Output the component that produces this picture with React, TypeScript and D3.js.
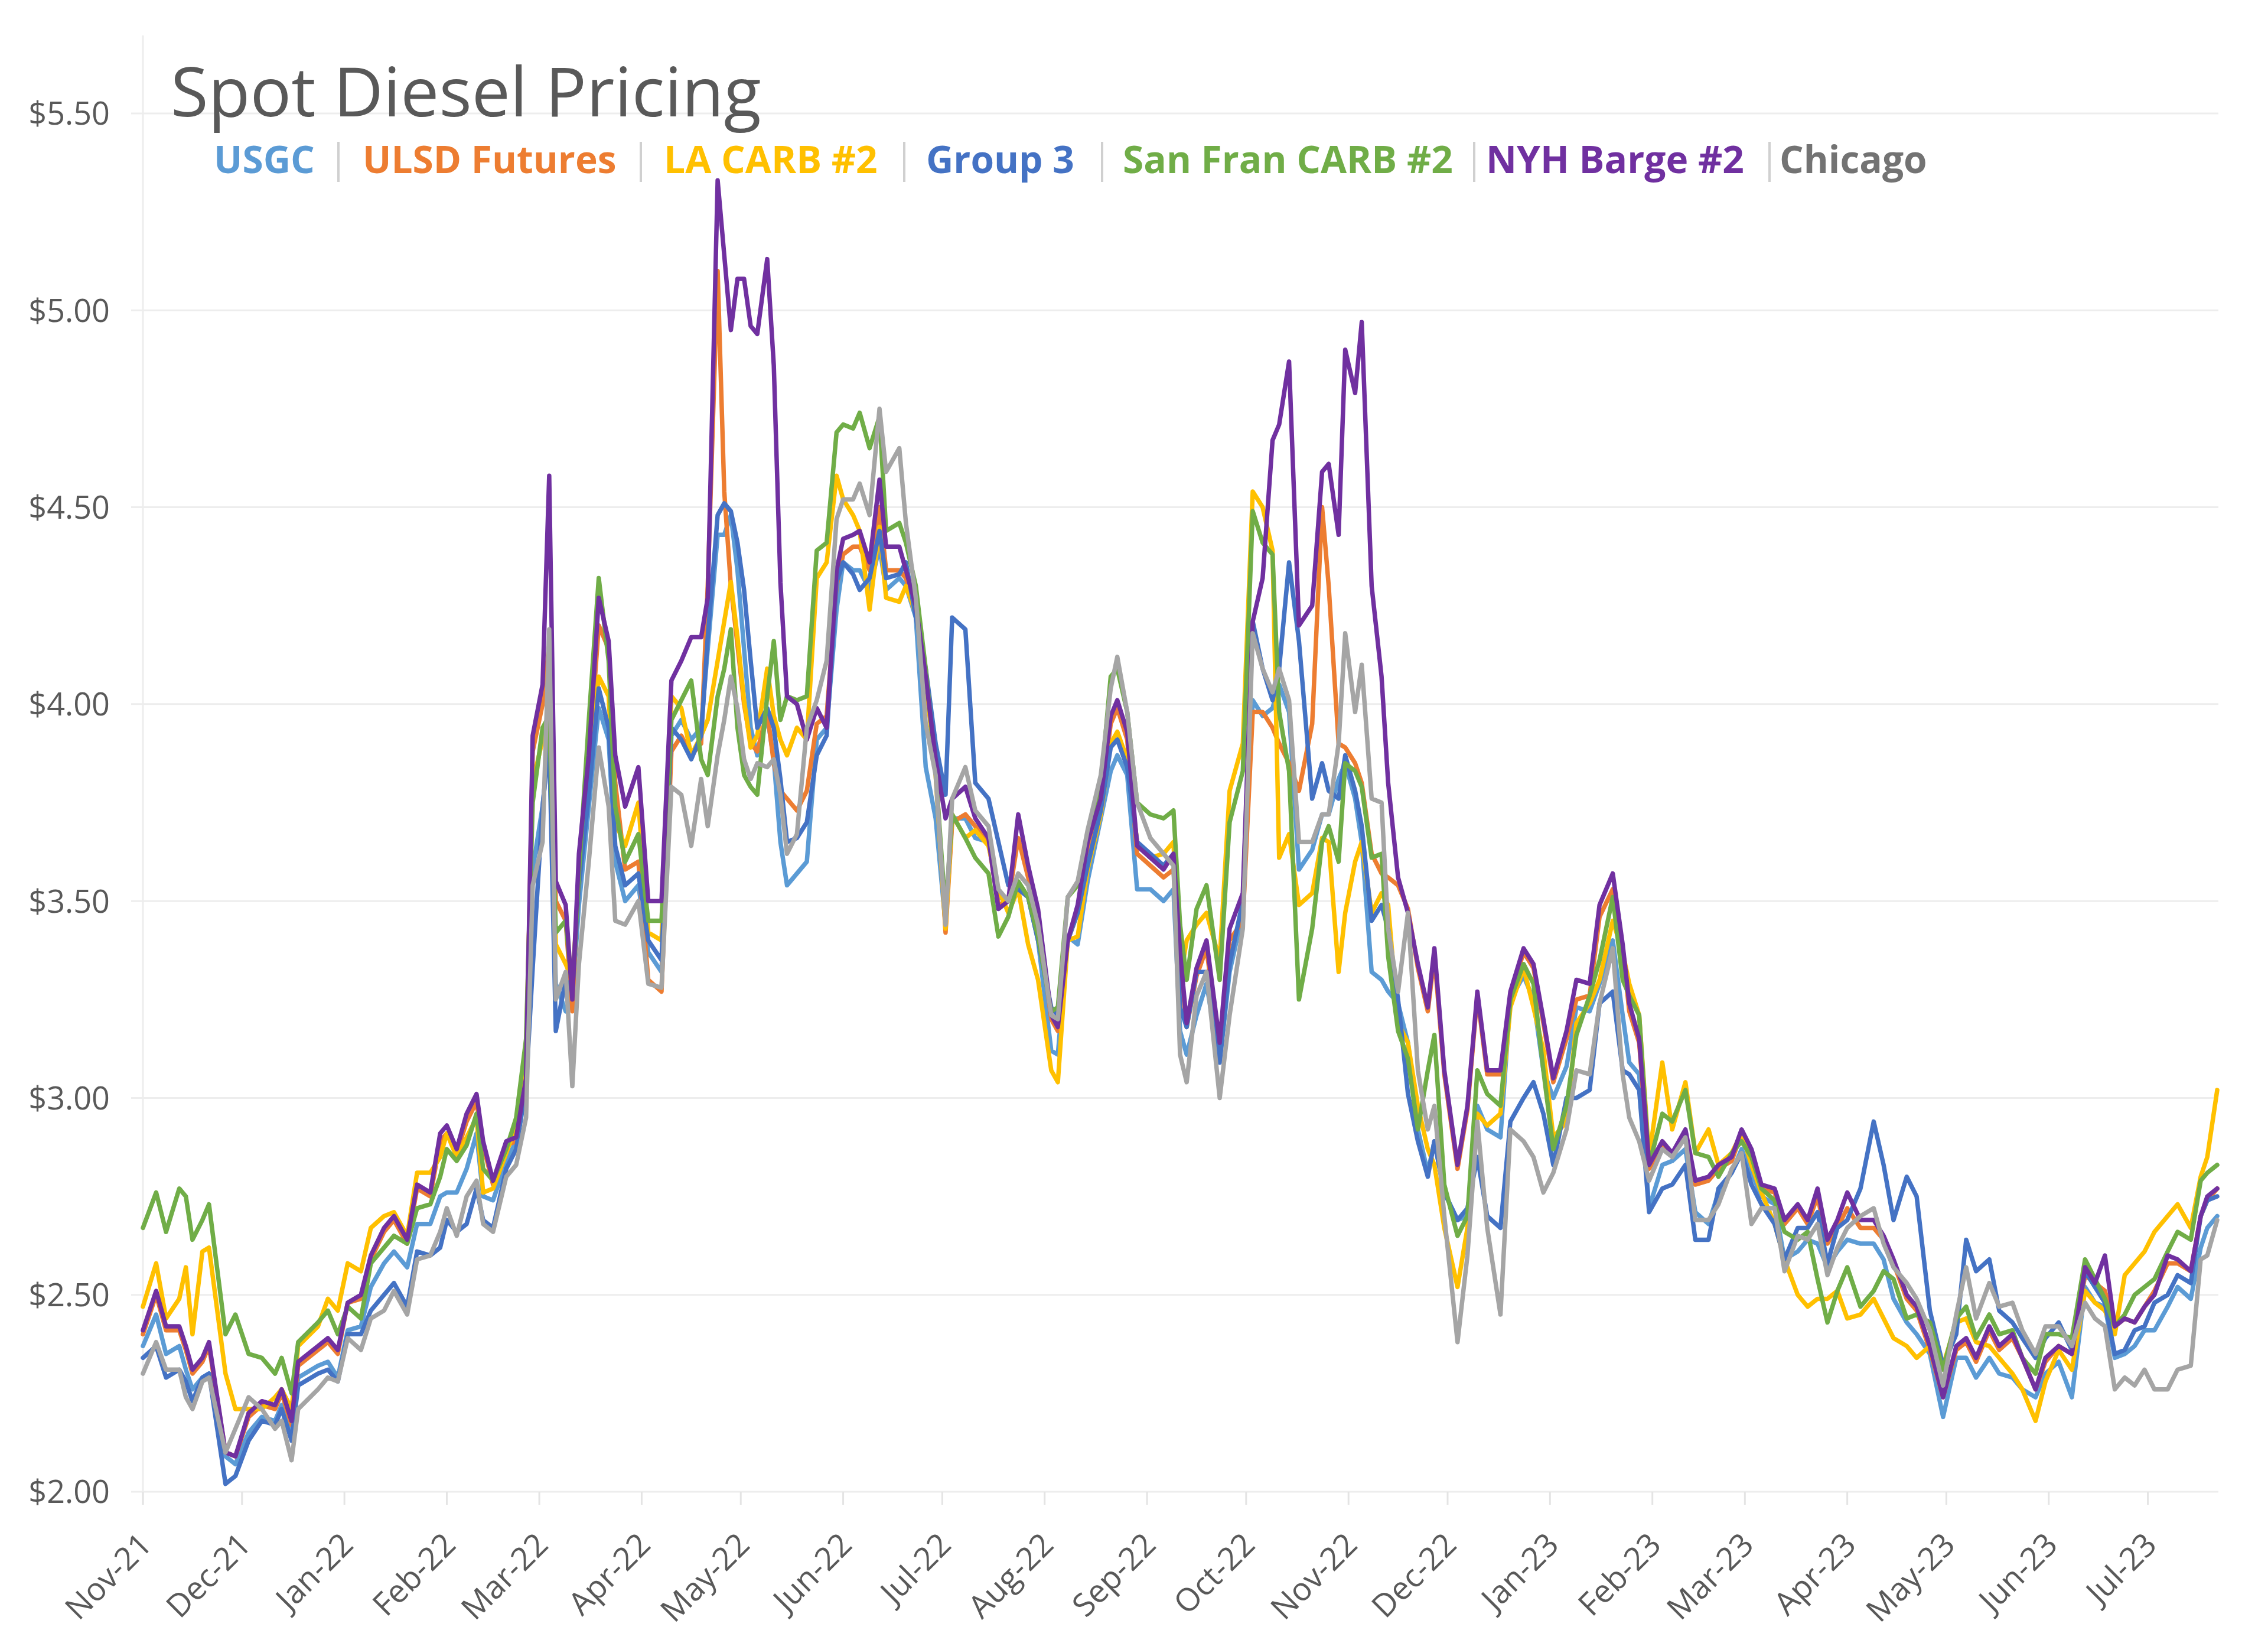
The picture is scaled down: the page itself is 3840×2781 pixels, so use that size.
import React from "react";
import * as d3 from "d3";

// ---------- DATA ----------
const dates: string[] = [
  "2021-11-01","2021-11-05","2021-11-08","2021-11-12","2021-11-14","2021-11-16","2021-11-19","2021-11-21","2021-11-26","2021-11-29",
  "2021-12-03","2021-12-07","2021-12-11","2021-12-13","2021-12-16","2021-12-18","2021-12-24","2021-12-27","2021-12-30","2022-01-02",
  "2022-01-06","2022-01-09","2022-01-13","2022-01-16","2022-01-20","2022-01-23","2022-01-27","2022-01-30","2022-02-01","2022-02-04",
  "2022-02-07","2022-02-10","2022-02-12","2022-02-15",
  "2022-02-19","2022-02-22","2022-02-25","2022-02-27","2022-03-02","2022-03-04","2022-03-06","2022-03-09","2022-03-11","2022-03-13",
  "2022-03-16","2022-03-19","2022-03-22","2022-03-24","2022-03-27","2022-03-31","2022-04-03","2022-04-07","2022-04-10","2022-04-13",
  "2022-04-16","2022-04-19","2022-04-21","2022-04-24","2022-04-26","2022-04-28","2022-04-30","2022-05-02","2022-05-04","2022-05-06",
  "2022-05-09","2022-05-11","2022-05-13","2022-05-15","2022-05-18","2022-05-21","2022-05-24","2022-05-27","2022-05-30","2022-06-01",
  "2022-06-04","2022-06-06","2022-06-09","2022-06-12","2022-06-14","2022-06-18","2022-06-20","2022-06-23","2022-06-26","2022-06-29",
  "2022-07-02","2022-07-04","2022-07-08","2022-07-11","2022-07-15","2022-07-18","2022-07-21","2022-07-24","2022-07-27","2022-07-30",
  "2022-08-03","2022-08-05","2022-08-08","2022-08-11","2022-08-14","2022-08-18","2022-08-21","2022-08-23","2022-08-26","2022-08-29",
  "2022-09-02","2022-09-06","2022-09-09","2022-09-11","2022-09-13","2022-09-16",
  "2022-09-19","2022-09-23","2022-09-26","2022-09-30","2022-10-03","2022-10-06","2022-10-09","2022-10-11","2022-10-14","2022-10-17",
  "2022-10-21","2022-10-24","2022-10-26","2022-10-29","2022-10-31","2022-11-03","2022-11-05","2022-11-08","2022-11-11","2022-11-13",
  "2022-11-16","2022-11-19","2022-11-22","2022-11-25","2022-11-27","2022-11-30","2022-12-04","2022-12-07","2022-12-10","2022-12-13",
  "2022-12-17","2022-12-20","2022-12-24","2022-12-27","2022-12-30","2023-01-02",
  "2023-01-06","2023-01-09","2023-01-13","2023-01-16","2023-01-20","2023-01-23","2023-01-25","2023-01-28","2023-01-31","2023-02-04",
  "2023-02-07","2023-02-11","2023-02-14","2023-02-18","2023-02-21","2023-02-25","2023-02-28","2023-03-03","2023-03-06","2023-03-10",
  "2023-03-13","2023-03-17","2023-03-20","2023-03-23","2023-03-26","2023-03-29","2023-04-01","2023-04-05","2023-04-09","2023-04-12",
  "2023-04-15","2023-04-19",
  "2023-04-22","2023-04-26","2023-04-30","2023-05-04","2023-05-07","2023-05-10","2023-05-14","2023-05-17","2023-05-21","2023-05-24",
  "2023-05-28","2023-05-31","2023-06-04","2023-06-08","2023-06-12","2023-06-15","2023-06-18","2023-06-21","2023-06-24","2023-06-27",
  "2023-06-30","2023-07-03","2023-07-07","2023-07-10","2023-07-14","2023-07-17","2023-07-19","2023-07-22",
];

const usgc: number[] = [
  2.37,2.45,2.35,2.37,2.31,2.26,2.29,2.30,2.09,2.07,2.15,2.19,2.18,2.22,2.16,2.29,2.32,2.33,2.29,2.41,2.42,2.52,2.58,2.61,2.57,2.68,2.68,2.75,2.76,2.76,2.82,2.91,2.75,2.74,
  2.84,2.89,3.05,3.58,3.74,3.91,3.29,3.22,3.25,3.49,3.74,3.99,3.91,3.60,3.50,3.54,3.37,3.32,3.92,3.96,3.91,3.94,4.14,4.43,4.43,4.48,4.34,4.14,3.94,3.87,3.97,3.86,3.65,3.54,3.57,3.60,3.91,3.94,4.24,4.36,
  4.34,4.34,4.29,4.40,4.29,4.32,4.30,4.22,3.84,3.71,3.44,3.71,3.71,3.66,3.65,3.51,3.50,3.54,3.51,3.40,3.12,3.11,3.41,3.39,3.55,3.71,3.83,3.87,3.82,3.53,3.53,3.50,3.53,3.17,3.11,3.21,
  3.29,3.09,3.32,3.47,4.01,3.97,3.99,4.05,3.98,3.58,3.63,3.72,3.72,3.81,3.85,3.76,3.65,3.32,3.30,3.27,3.24,3.14,2.92,2.81,2.89,2.76,2.69,2.70,2.98,2.92,2.90,3.25,3.31,3.25,3.07,3.00,
  3.08,3.23,3.22,3.29,3.40,3.21,3.09,3.06,2.72,2.83,2.84,2.87,2.71,2.68,2.76,2.81,2.87,2.81,2.75,2.73,2.59,2.61,2.64,2.63,2.57,2.61,2.64,2.63,2.63,2.59,2.49,2.43,
  2.40,2.35,2.19,2.34,2.34,2.29,2.34,2.30,2.29,2.26,2.24,2.30,2.33,2.24,2.52,2.48,2.47,2.34,2.35,2.37,2.41,2.41,2.47,2.52,2.49,2.62,2.67,2.70,
];

const ulsdFutures: number[] = [
  2.40,2.50,2.41,2.41,2.36,2.30,2.33,2.37,2.10,2.09,2.19,2.22,2.21,2.25,2.17,2.32,2.36,2.38,2.35,2.48,2.49,2.59,2.66,2.69,2.63,2.77,2.75,2.89,2.91,2.86,2.94,2.99,2.88,2.78,
  2.88,2.89,3.05,3.88,4.00,4.15,3.50,3.45,3.22,3.58,3.85,4.20,4.14,3.80,3.58,3.60,3.30,3.27,3.88,3.92,3.87,3.90,4.30,5.10,4.54,4.30,4.15,4.00,3.90,3.88,3.98,3.85,3.78,3.76,3.73,3.78,3.95,3.97,4.30,4.38,
  4.40,4.40,4.34,4.50,4.34,4.34,4.32,4.24,4.06,3.84,3.42,3.70,3.72,3.69,3.65,3.49,3.50,3.66,3.56,3.46,3.20,3.17,3.40,3.47,3.62,3.75,3.95,3.99,3.91,3.62,3.59,3.56,3.58,3.35,3.18,3.31,
  3.38,3.12,3.40,3.45,3.98,3.98,3.94,3.90,3.85,3.78,3.95,4.50,4.30,3.90,3.89,3.85,3.80,3.62,3.57,3.56,3.54,3.48,3.33,3.22,3.36,3.06,2.82,2.97,3.26,3.06,3.06,3.26,3.37,3.33,3.19,3.04,
  3.15,3.25,3.26,3.46,3.53,3.38,3.22,3.14,2.82,2.88,2.85,2.91,2.78,2.79,2.82,2.84,2.91,2.86,2.77,2.76,2.68,2.72,2.68,2.75,2.63,2.67,2.72,2.67,2.67,2.64,2.58,2.49,
  2.46,2.36,2.24,2.36,2.38,2.33,2.41,2.36,2.39,2.34,2.26,2.33,2.37,2.35,2.55,2.53,2.51,2.42,2.44,2.43,2.47,2.51,2.58,2.58,2.56,2.70,2.74,2.77,
];

const laCarb: number[] = [
  2.47,2.58,2.44,2.49,2.57,2.40,2.61,2.62,2.30,2.21,2.21,2.21,2.24,2.26,2.21,2.37,2.42,2.49,2.46,2.58,2.56,2.67,2.70,2.71,2.65,2.81,2.81,2.85,2.91,2.85,2.90,2.95,2.76,2.77,
  2.86,2.93,3.12,3.80,3.91,3.94,3.39,3.34,3.30,3.54,3.84,4.07,4.02,3.70,3.64,3.75,3.42,3.40,4.02,3.99,3.87,3.92,3.96,4.11,4.21,4.31,4.17,4.01,3.89,3.92,4.09,3.97,3.91,3.87,3.94,3.91,4.32,4.36,4.58,4.52,
  4.48,4.44,4.24,4.45,4.27,4.26,4.30,4.23,4.07,3.82,3.43,3.72,3.66,3.68,3.64,3.53,3.47,3.53,3.39,3.30,3.07,3.04,3.40,3.41,3.58,3.72,3.90,3.93,3.86,3.65,3.61,3.62,3.65,3.30,3.40,3.44,
  3.47,3.35,3.78,3.90,4.54,4.50,4.39,3.61,3.67,3.49,3.52,3.66,3.65,3.32,3.47,3.60,3.65,3.47,3.52,3.49,3.19,3.14,2.98,2.87,2.83,2.67,2.52,2.67,2.96,2.93,2.96,3.23,3.33,3.23,3.12,2.90,
  2.94,3.19,3.24,3.30,3.45,3.37,3.29,3.21,2.85,3.09,2.92,3.04,2.86,2.92,2.83,2.86,2.91,2.83,2.76,2.68,2.59,2.50,2.47,2.49,2.49,2.51,2.44,2.45,2.49,2.44,2.39,2.37,
  2.34,2.37,2.32,2.43,2.44,2.38,2.37,2.34,2.30,2.26,2.18,2.28,2.36,2.31,2.51,2.48,2.46,2.40,2.55,2.58,2.61,2.66,2.70,2.73,2.67,2.80,2.85,3.02,
];

const group3: number[] = [
  2.34,2.37,2.29,2.31,2.28,2.23,2.29,2.30,2.02,2.04,2.13,2.18,2.17,2.21,2.13,2.27,2.30,2.31,2.28,2.40,2.40,2.46,2.50,2.53,2.47,2.61,2.60,2.62,2.69,2.66,2.68,2.77,2.69,2.67,
  2.82,2.87,3.03,3.33,3.74,3.91,3.17,3.30,3.27,3.54,3.77,4.04,3.94,3.64,3.54,3.57,3.40,3.35,3.94,3.91,3.86,3.92,4.17,4.48,4.51,4.49,4.41,4.29,4.11,3.94,3.99,3.94,3.81,3.65,3.66,3.70,3.87,3.92,4.31,4.36,
  4.33,4.29,4.32,4.44,4.32,4.33,4.36,4.22,4.09,3.90,3.77,4.22,4.19,3.80,3.76,3.65,3.54,3.53,3.51,3.40,3.23,3.21,3.40,3.47,3.59,3.73,3.89,3.91,3.84,3.65,3.62,3.59,3.62,3.23,3.18,3.32,
  3.32,3.09,3.34,3.50,4.21,4.09,4.01,4.09,4.36,4.16,3.76,3.85,3.78,3.76,3.87,3.78,3.69,3.45,3.49,3.43,3.25,3.01,2.89,2.80,2.89,2.76,2.69,2.72,2.85,2.70,2.67,2.94,3.00,3.04,2.96,2.83,
  3.00,3.00,3.02,3.24,3.27,3.07,3.06,3.02,2.71,2.77,2.78,2.83,2.64,2.64,2.77,2.81,2.86,2.78,2.73,2.68,2.59,2.67,2.67,2.71,2.58,2.67,2.69,2.77,2.94,2.83,2.69,2.80,
  2.75,2.46,2.32,2.40,2.64,2.56,2.59,2.46,2.43,2.39,2.34,2.39,2.43,2.36,2.56,2.52,2.48,2.35,2.36,2.41,2.42,2.48,2.50,2.55,2.53,2.70,2.74,2.75,
];

const sanFranCarb: number[] = [
  2.67,2.76,2.66,2.77,2.75,2.64,2.69,2.73,2.40,2.45,2.35,2.34,2.30,2.34,2.25,2.38,2.43,2.46,2.40,2.47,2.44,2.58,2.62,2.65,2.63,2.72,2.73,2.80,2.87,2.84,2.88,2.96,2.82,2.79,
  2.87,2.95,3.15,3.75,3.94,3.97,3.42,3.45,3.27,3.57,3.96,4.32,4.11,3.74,3.60,3.67,3.45,3.45,3.96,4.01,4.06,3.86,3.82,4.02,4.09,4.19,3.94,3.82,3.79,3.77,4.02,4.16,3.96,4.02,4.01,4.02,4.39,4.41,4.69,4.71,
  4.70,4.74,4.65,4.73,4.44,4.46,4.41,4.30,4.09,3.83,3.47,3.72,3.66,3.61,3.57,3.41,3.46,3.55,3.51,3.41,3.22,3.23,3.51,3.54,3.66,3.79,4.07,4.09,3.98,3.75,3.72,3.71,3.73,3.44,3.30,3.48,
  3.54,3.30,3.70,3.83,4.49,4.41,4.38,3.98,3.83,3.25,3.43,3.65,3.69,3.60,3.85,3.83,3.79,3.61,3.62,3.36,3.17,3.10,2.92,3.07,3.16,2.78,2.65,2.70,3.07,3.01,2.98,3.25,3.34,3.29,3.07,2.87,
  2.98,3.16,3.26,3.35,3.51,3.30,3.26,3.21,2.83,2.96,2.94,3.02,2.86,2.85,2.80,2.86,2.89,2.85,2.77,2.74,2.66,2.64,2.66,2.54,2.43,2.51,2.57,2.47,2.51,2.56,2.54,2.44,
  2.45,2.43,2.31,2.44,2.47,2.39,2.45,2.40,2.41,2.34,2.30,2.40,2.40,2.39,2.59,2.54,2.49,2.42,2.45,2.50,2.52,2.54,2.61,2.66,2.64,2.79,2.81,2.83,
];

const nyhBarge: number[] = [
  2.41,2.51,2.42,2.42,2.37,2.31,2.34,2.38,2.10,2.09,2.20,2.23,2.22,2.26,2.18,2.33,2.37,2.39,2.36,2.48,2.50,2.60,2.67,2.70,2.64,2.78,2.76,2.91,2.93,2.87,2.96,3.01,2.89,2.79,
  2.89,2.90,3.05,3.92,4.05,4.58,3.55,3.49,3.25,3.62,3.87,4.27,4.16,3.87,3.74,3.84,3.50,3.50,4.06,4.11,4.17,4.17,4.27,5.33,5.14,4.95,5.08,5.08,4.96,4.94,5.13,4.86,4.31,4.02,4.00,3.91,3.99,3.94,4.34,4.42,
  4.43,4.44,4.36,4.57,4.40,4.40,4.34,4.25,4.07,3.86,3.71,3.76,3.79,3.71,3.66,3.48,3.50,3.72,3.59,3.48,3.21,3.18,3.40,3.49,3.65,3.76,3.97,4.01,3.93,3.64,3.61,3.58,3.62,3.37,3.19,3.33,
  3.40,3.14,3.43,3.52,4.21,4.32,4.67,4.71,4.87,4.20,4.25,4.59,4.61,4.43,4.90,4.79,4.97,4.30,4.07,3.80,3.56,3.47,3.34,3.23,3.38,3.07,2.83,2.98,3.27,3.07,3.07,3.27,3.38,3.34,3.20,3.05,
  3.17,3.30,3.29,3.49,3.57,3.39,3.24,3.15,2.83,2.89,2.86,2.92,2.79,2.80,2.83,2.85,2.92,2.87,2.78,2.77,2.69,2.73,2.69,2.77,2.64,2.69,2.76,2.69,2.69,2.65,2.59,2.50,
  2.47,2.37,2.24,2.37,2.39,2.34,2.42,2.37,2.40,2.34,2.26,2.34,2.37,2.35,2.57,2.53,2.60,2.42,2.44,2.43,2.47,2.50,2.60,2.59,2.56,2.70,2.75,2.77,
];

const chicago: number[] = [
  2.30,2.38,2.31,2.31,2.24,2.21,2.28,2.29,2.10,2.16,2.24,2.21,2.16,2.18,2.08,2.21,2.26,2.29,2.28,2.39,2.36,2.44,2.46,2.51,2.45,2.59,2.60,2.66,2.72,2.65,2.75,2.79,2.68,2.66,
  2.80,2.83,2.95,3.54,3.65,4.19,3.25,3.32,3.03,3.34,3.60,3.89,3.74,3.45,3.44,3.50,3.29,3.28,3.79,3.77,3.64,3.81,3.69,3.87,3.96,4.07,3.99,3.86,3.81,3.85,3.84,3.86,3.77,3.62,3.67,3.94,4.01,4.11,4.47,4.52,
  4.52,4.56,4.48,4.75,4.59,4.65,4.46,4.27,3.95,3.82,3.44,3.76,3.84,3.73,3.69,3.53,3.50,3.57,3.54,3.44,3.21,3.20,3.51,3.55,3.68,3.82,4.04,4.12,3.98,3.75,3.66,3.62,3.59,3.11,3.04,3.26,
  3.32,3.00,3.21,3.43,4.18,4.09,4.03,4.09,4.01,3.65,3.65,3.72,3.72,3.90,4.18,3.98,4.10,3.76,3.75,3.43,3.27,3.47,3.07,2.92,2.98,2.70,2.38,2.60,2.94,2.67,2.45,2.92,2.89,2.85,2.76,2.81,
  2.92,3.07,3.06,3.24,3.38,3.06,2.95,2.89,2.79,2.87,2.85,2.90,2.69,2.69,2.73,2.82,2.86,2.68,2.72,2.72,2.56,2.65,2.64,2.68,2.55,2.62,2.67,2.70,2.72,2.63,2.57,2.53,
  2.49,2.41,2.27,2.45,2.57,2.44,2.53,2.47,2.48,2.41,2.35,2.42,2.42,2.37,2.48,2.44,2.42,2.26,2.29,2.27,2.31,2.26,2.26,2.31,2.32,2.59,2.60,2.69,
];

const seriesNames = ["USGC", "ULSD Futures", "LA CARB #2", "Group 3", "San Fran CARB #2", "NYH Barge #2", "Chicago"];
const seriesValues = [usgc, ulsdFutures, laCarb, group3, sanFranCarb, nyhBarge, chicago];

const yTicks = [2, 2.5, 3, 3.5, 4, 4.5, 5, 5.5];
const xTickDates = [
  "2021-11-01","2021-12-01","2022-01-01","2022-02-01","2022-03-01","2022-04-01","2022-05-01","2022-06-01","2022-07-01","2022-08-01","2022-09-01",
  "2022-10-01","2022-11-01","2022-12-01","2023-01-01","2023-02-01","2023-03-01","2023-04-01","2023-05-01","2023-06-01","2023-07-01",
];
const xTickLabels = [
  "Nov-21","Dec-21","Jan-22","Feb-22","Mar-22","Apr-22","May-22","Jun-22","Jul-22","Aug-22","Sep-22",
  "Oct-22","Nov-22","Dec-22","Jan-23","Feb-23","Mar-23","Apr-23","May-23","Jun-23","Jul-23",
];
const titleText = "Spot Diesel Pricing";

// ---------- STYLE / LAYOUT ----------
const lineColors = ["#5B9BD5", "#ED7D31", "#FFC000", "#4472C4", "#70AD47", "#7030A0", "#A5A5A5"];
const legendTextColors = ["#5B9BD5", "#ED7D31", "#FFC000", "#4472C4", "#70AD47", "#7030A0", "#737373"];
const legendX = [362, 614, 1124, 1568, 1901, 2516, 3013];
const legendSepX = [573, 1085, 1531, 1866, 2496, 2996];

const W = 3840;
const H = 2781;
const X0 = 242;
const X1 = 3754;
const FONT = "'Open Sans', 'Noto Sans', 'DejaVu Sans', sans-serif";

const parse = (s: string) => {
  const [y, m, d] = s.split("-").map(Number);
  return new Date(y, m - 1, d);
};

export default function App() {
  const x = d3.scaleTime().domain([parse("2021-11-01"), parse("2023-07-22")]).range([X0, X1]);
  const y = d3.scaleLinear().domain([2, 5.5]).range([2525, 192]);
  const parsedDates = dates.map(parse);
  const line = d3
    .line<number>()
    .x((_, i) => x(parsedDates[i]))
    .y((v) => y(v))
    .curve(d3.curveLinear);
  const fmt = d3.format("$.2f");
  const yBottom = y(2);

  return (
    <div style={{ position: "absolute", left: 0, top: 0, width: W, height: H, background: "#fff" }}>
      <svg width={W} height={H} style={{ display: "block" }} fontFamily={FONT}>
        <rect x={0} y={0} width={W} height={H} fill="#ffffff" />
        {/* gridlines */}
        {yTicks.map((t) => (
          <line key={"g" + t} x1={222} x2={3756} y1={y(t)} y2={y(t)} stroke="#EDEDED" strokeWidth={3} />
        ))}
        {/* vertical axis line */}
        <line x1={X0} x2={X0} y1={60} y2={yBottom + 22} stroke="#EDEDED" strokeWidth={3} />
        {/* month ticks */}
        {xTickDates.map((d) => (
          <line key={"t" + d} x1={x(parse(d))} x2={x(parse(d))} y1={yBottom} y2={yBottom + 22} stroke="#E4E4E4" strokeWidth={3} />
        ))}
        {/* y labels */}
        {yTicks.map((t) => (
          <text key={"yl" + t} x={186} y={y(t)} dy="0.36em" textAnchor="end" fontSize={54} fill="#595959">
            {fmt(t)}
          </text>
        ))}
        {/* x labels */}
        {xTickDates.map((d, i) => (
          <text
            key={"xl" + d}
            transform={`translate(${x(parse(d)) + 18},${2618}) rotate(-45)`}
            textAnchor="end"
            fontSize={54}
            fill="#595959"
          >
            {xTickLabels[i]}
          </text>
        ))}
        {/* series lines */}
        {seriesValues.map((vals, si) => (
          <path
            key={"s" + si}
            d={line(vals) || ""}
            fill="none"
            stroke={lineColors[si]}
            strokeWidth={7.5}
            strokeLinejoin="round"
            strokeLinecap="round"
          />
        ))}
        {/* title */}
        <text x={289} y={197} fontSize={116} fill="#595959">
          {titleText}
        </text>
        {/* legend */}
        {seriesNames.map((n, i) => (
          <text key={"lg" + i} x={legendX[i]} y={293} fontSize={64} fontWeight={700} fill={legendTextColors[i]}>
            {n}
          </text>
        ))}
        {legendSepX.map((sx, i) => (
          <line key={"sep" + i} x1={sx} x2={sx} y1={240} y2={308} stroke="#D0D0D0" strokeWidth={4} />
        ))}
      </svg>
    </div>
  );
}
